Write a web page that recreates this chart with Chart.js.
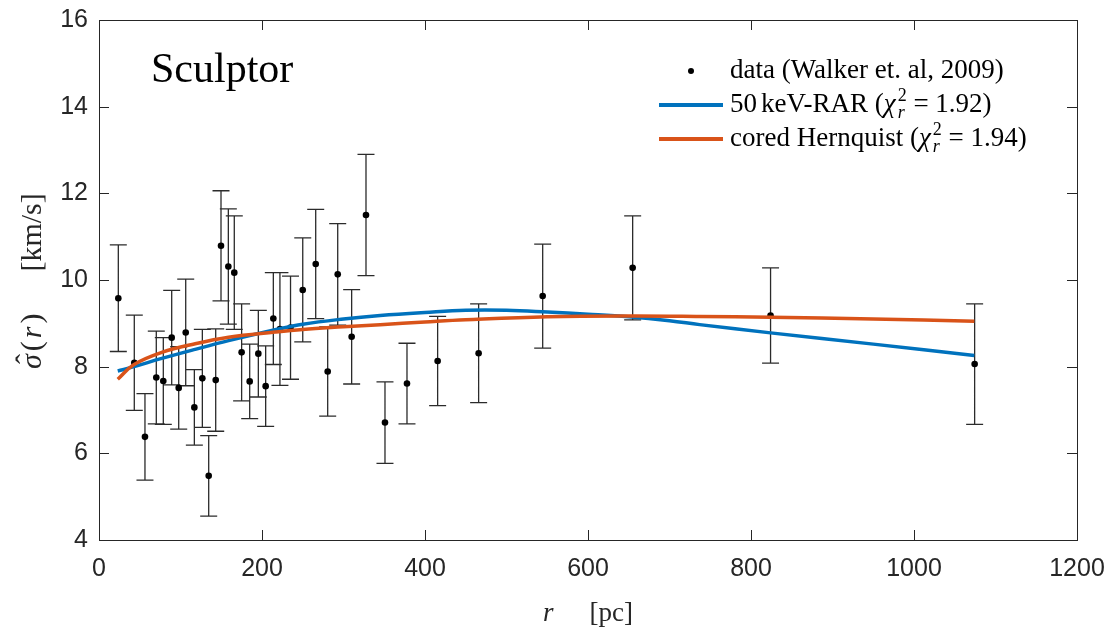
<!DOCTYPE html>
<html>
<head>
<meta charset="utf-8">
<script src="https://cdn.jsdelivr.net/npm/chart.js@4"></script>
<style>
  html, body { margin: 0; padding: 0; background: #fff; }
  #wrap { width: 1113px; height: 630px; }
</style>
</head>
<body>
<div id="wrap"><canvas id="chart" width="1113" height="630"></canvas></div>
<script>
// Sculptor velocity dispersion profile (Walker et al. 2009) and two halo models
const radius = [23.7, 43.3, 56.4, 70.3, 78.9, 89.2, 97.8, 106.4, 117, 126.8, 134.6, 143.2, 149.7, 158.7,
    166, 175, 184.9, 195.5, 204.5, 213.9, 222, 235, 250, 265.9, 280.6, 292.9, 310, 327.6, 350.9, 377.9,
    415.5, 465.8, 544.4, 654.8, 824, 1074.4];
const sigma = [9.58, 8.09, 6.38, 7.75, 7.67, 8.67, 7.51, 8.79, 7.06, 7.73, 5.48, 7.69, 10.79, 10.31,
    10.17, 8.33, 7.66, 8.3, 7.55, 9.11, 8.87, 8.9, 9.77, 10.37, 7.89, 10.13, 8.69, 11.5, 6.71, 7.61,
    8.13, 8.31, 9.63, 10.28, 9.18, 8.06];
const sigmaErr = [1.23, 1.1, 1.0, 1.07, 1.0, 1.09, 0.95, 1.23, 0.87, 1.13, 0.93, 1.18, 1.27, 1.33,
    1.31, 1.12, 0.86, 1.0, 0.93, 1.06, 1.3, 1.19, 1.2, 1.26, 1.03, 1.17, 1.09, 1.4, 0.94, 0.93,
    1.03, 1.14, 1.2, 1.2, 1.1, 1.39];

const rarR = [23, 43, 77, 118, 159, 216, 250, 300, 345, 400, 450, 500, 550, 600, 650, 700, 737, 824, 950, 1074];
const rarSigma = [7.9, 8.0, 8.19, 8.4, 8.6, 8.85, 8.98, 9.1, 9.18, 9.25, 9.3, 9.3, 9.26, 9.21, 9.15, 9.06, 8.97, 8.78, 8.52, 8.26];

const hernR = [23, 43, 77, 118, 159, 216, 250, 300, 345, 400, 450, 550, 650, 737, 824, 950, 1074];
const hernSigma = [7.71, 8.05, 8.33, 8.53, 8.68, 8.8, 8.86, 8.92, 8.97, 9.03, 9.08, 9.15, 9.17, 9.16, 9.14, 9.1, 9.05];

const xTicks = [0, 200, 400, 600, 800, 1000, 1200];
const yTicks = [4, 6, 8, 10, 12, 14, 16];

const BLUE = '#0072BD';
const ORANGE = '#D95319';
const AXIS = '#262626';
const SERIF = '"Liberation Serif", "DejaVu Serif", serif';

// draw a list of text runs one after another along the current baseline
function drawRuns(ctx, runs, x, y) {
    let cx = x;
    runs.forEach(run => {
        ctx.font = run.font;
        if (run.stackSup !== undefined) {
            // superscript and subscript stacked at the same position
            ctx.fillText(run.stackSup, cx, y - 11);
            const w1 = ctx.measureText(run.stackSup).width;
            ctx.font = run.subFont;
            ctx.fillText(run.stackSub, cx, y + 6);
            const w2 = ctx.measureText(run.stackSub).width;
            cx += Math.max(w1, w2);
            return;
        }
        ctx.fillText(run.text, cx, y + (run.dy || 0));
        cx += ctx.measureText(run.text).width + (run.gap || 0);
    });
    return cx;
}

const frameAndErrors = {
    id: 'frameAndErrors',
    beforeDatasetsDraw(chart) {
        const { ctx, chartArea: a, scales: { x, y } } = chart;
        ctx.save();
        // axes box with inward ticks on all sides
        ctx.strokeStyle = AXIS;
        ctx.lineWidth = 1;
        ctx.strokeRect(Math.round(a.left) + 0.5, Math.round(a.top) + 0.5,
            Math.round(a.right - a.left), Math.round(a.bottom - a.top));
        ctx.beginPath();
        xTicks.forEach(v => {
            const px = Math.round(x.getPixelForValue(v)) + 0.5;
            ctx.moveTo(px, a.bottom); ctx.lineTo(px, a.bottom - 10);
            ctx.moveTo(px, a.top); ctx.lineTo(px, a.top + 10);
        });
        yTicks.forEach(v => {
            const py = Math.round(y.getPixelForValue(v)) + 0.5;
            ctx.moveTo(a.left, py); ctx.lineTo(a.left + 10, py);
            ctx.moveTo(a.right, py); ctx.lineTo(a.right - 10, py);
        });
        ctx.stroke();

        // error bars
        ctx.strokeStyle = '#2b2b2b';
        ctx.lineWidth = 1.3;
        ctx.beginPath();
        radius.forEach((r, i) => {
            const px = x.getPixelForValue(r);
            const top = y.getPixelForValue(sigma[i] + sigmaErr[i]);
            const bot = y.getPixelForValue(sigma[i] - sigmaErr[i]);
            ctx.moveTo(px, top); ctx.lineTo(px, bot);
            ctx.moveTo(px - 8.5, top); ctx.lineTo(px + 8.5, top);
            ctx.moveTo(px - 8.5, bot); ctx.lineTo(px + 8.5, bot);
        });
        ctx.stroke();
        ctx.restore();
    }
};

const annotations = {
    id: 'annotations',
    afterDraw(chart) {
        const { ctx } = chart;
        ctx.save();
        ctx.textBaseline = 'alphabetic';
        ctx.textAlign = 'left';

        // panel title
        ctx.fillStyle = '#000';
        ctx.font = `42px ${SERIF}`;
        ctx.fillText('Sculptor', 151, 82);

        // legend
        ctx.beginPath();
        ctx.arc(691, 71, 3, 0, Math.PI * 2);
        ctx.fill();
        ctx.lineWidth = 4;
        ctx.strokeStyle = BLUE;
        ctx.beginPath(); ctx.moveTo(659, 105); ctx.lineTo(723, 105); ctx.stroke();
        ctx.strokeStyle = ORANGE;
        ctx.beginPath(); ctx.moveTo(659, 139); ctx.lineTo(723, 139); ctx.stroke();

        const f = `27px ${SERIF}`;
        const fi = `italic 27px ${SERIF}`;
        const fs = `18px ${SERIF}`;
        const fsi = `italic 18px ${SERIF}`;
        drawRuns(ctx, [{ text: 'data (Walker et. al, 2009)', font: f }], 730, 78);
        drawRuns(ctx, [
            { text: '50', font: f, gap: 4 },
            { text: 'keV-RAR (', font: f },
            { text: 'χ', font: fi, gap: 2 },
            { stackSup: '2', font: fs, stackSub: 'r', subFont: fsi },
            { text: ' = 1.92)', font: f }
        ], 730, 112);
        drawRuns(ctx, [
            { text: 'cored Hernquist (', font: f },
            { text: 'χ', font: fi, gap: 2 },
            { stackSup: '2', font: fs, stackSub: 'r', subFont: fsi },
            { text: ' = 1.94)', font: f }
        ], 730, 146);

        // axis titles
        ctx.fillStyle = AXIS;
        drawRuns(ctx, [
            { text: 'r', font: fi, gap: 36 },
            { text: '[pc]', font: f }
        ], 543, 621);

        const g = `30px ${SERIF}`;
        const gi = `italic 30px ${SERIF}`;
        ctx.translate(41, 369);
        ctx.rotate(-Math.PI / 2);
        drawRuns(ctx, [
            { text: 'σ', font: gi, gap: 3 },
            { text: '(', font: g, gap: 3 },
            { text: 'r', font: gi, gap: 3 },
            { text: ')', font: g, gap: 42 },
            { text: '[km/s]', font: g }
        ], 0, 0);
        // hat over sigma
        ctx.font = g;
        ctx.fillText('ˆ', 5, -5);
        ctx.restore();
    }
};

const tickFont = { family: '"Liberation Sans", Arial, sans-serif', size: 25 };

new Chart(document.getElementById('chart'), {
    type: 'scatter',
    data: {
        datasets: [
            {
                label: '50 keV-RAR',
                data: rarR.map((r, i) => ({ x: r, y: rarSigma[i] })),
                showLine: true,
                borderColor: BLUE,
                borderWidth: 3.5,
                pointRadius: 0,
                tension: 0.4,
                order: 1
            },
            {
                label: 'cored Hernquist',
                data: hernR.map((r, i) => ({ x: r, y: hernSigma[i] })),
                showLine: true,
                borderColor: ORANGE,
                borderWidth: 3.5,
                pointRadius: 0,
                tension: 0.4,
                order: 0
            },
            {
                label: 'data (Walker et. al, 2009)',
                data: radius.map((r, i) => ({ x: r, y: sigma[i] })),
                backgroundColor: '#000',
                borderColor: '#000',
                pointRadius: 3.3,
                pointBorderWidth: 0,
                order: 2
            }
        ]
    },
    options: {
        responsive: false,
        animation: false,
        layout: { padding: { top: 20, right: 36, left: 0, bottom: 0 } },
        plugins: { legend: { display: false }, tooltip: { enabled: false } },
        scales: {
            x: {
                type: 'linear',
                min: 0, max: 1200,
                afterFit: scale => {
                    scale.height = 90;
                    scale.paddingLeft = 0;
                    scale.paddingRight = 0;
                },
                afterBuildTicks: scale => { scale.ticks = xTicks.map(v => ({ value: v })); },
                grid: { display: false, drawTicks: false },
                border: { display: false },
                ticks: { color: AXIS, padding: 14, font: tickFont, callback: v => String(v) }
            },
            y: {
                type: 'linear',
                min: 4, max: 16,
                afterFit: scale => {
                    scale.width = 99;
                    scale.paddingTop = 0;
                    scale.paddingBottom = 0;
                },
                afterBuildTicks: scale => { scale.ticks = yTicks.map(v => ({ value: v })); },
                grid: { display: false, drawTicks: false },
                border: { display: false },
                ticks: { color: AXIS, padding: 11, font: tickFont, callback: v => String(v) }
            }
        }
    },
    plugins: [frameAndErrors, annotations]
});
</script>
</body>
</html>
